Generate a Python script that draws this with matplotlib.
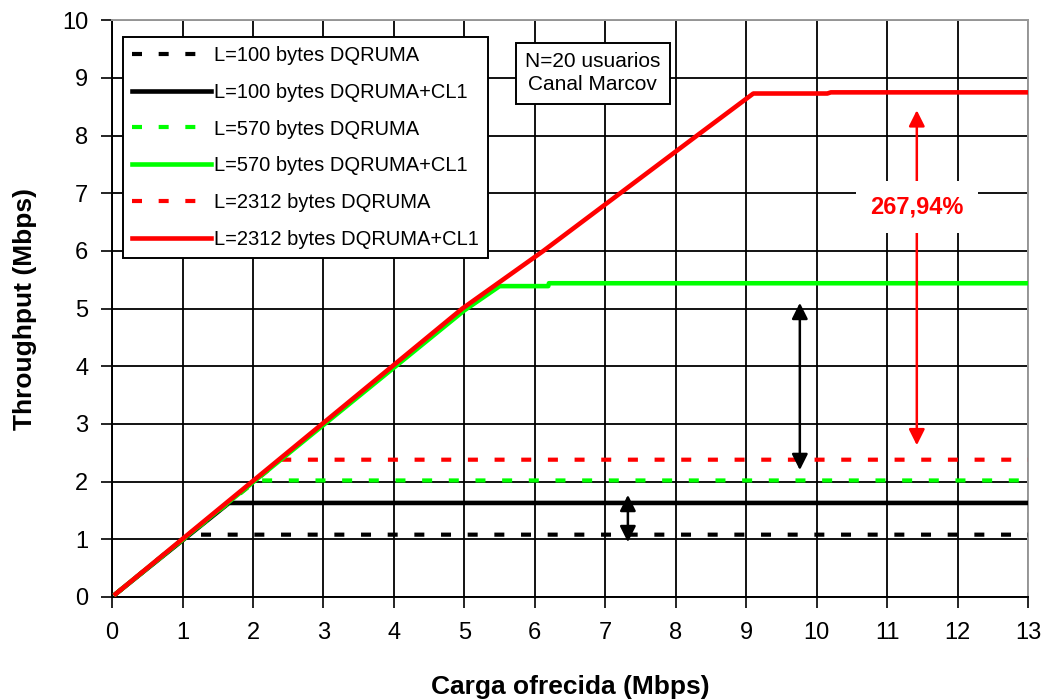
import matplotlib
matplotlib.use('Agg')
import matplotlib.pyplot as plt

plt.rcParams['font.family'] = ['Liberation Sans', 'DejaVu Sans']

# offered load (Mbps) / throughput (Mbps) for each curve
x_100 = [0.05, 1.08, 13]
y_100 = [0.05, 1.08, 1.08]
x_100_cl = [0.05, 1.66, 13]
y_100_cl = [0.05, 1.63, 1.63]
x_570 = [0.05, 2.05, 13]
y_570 = [0.05, 2.02, 2.02]
x_570_cl = [0.05, 5.0, 5.5, 6.19, 6.2, 13]
y_570_cl = [0.05, 4.97, 5.39, 5.39, 5.44, 5.44]
x_2312 = [0.05, 2.4, 13]
y_2312 = [0.05, 2.38, 2.38]
x_2312_cl = [0.05, 4.97, 6.12, 7.21, 8.3, 9.1, 10.15, 10.2, 13]
y_2312_cl = [0.05, 5.0, 6.0, 7.0, 8.0, 8.73, 8.73, 8.75, 8.75]

labels = ['L=100 bytes DQRUMA', 'L=100 bytes DQRUMA+CL1',
          'L=570 bytes DQRUMA', 'L=570 bytes DQRUMA+CL1',
          'L=2312 bytes DQRUMA', 'L=2312 bytes DQRUMA+CL1']

green = '#00ff00'
red = '#ff0000'

fig = plt.figure(figsize=(10.47, 6.99), dpi=100)
ax = fig.add_axes([0.107, 0.146, 0.875, 0.825])

dash = (0, (2.4, 4.0))
ax.plot(x_100, y_100, color='black', lw=3, ls=dash, label=labels[0], zorder=3)
ax.plot(x_100_cl, y_100_cl, color='black', lw=3.3, label=labels[1], zorder=3)
ax.plot(x_570, y_570, color=green, lw=3, ls=dash, label=labels[2], zorder=3)
ax.plot(x_570_cl, y_570_cl, color=green, lw=3.3, label=labels[3], zorder=4)
ax.plot(x_2312, y_2312, color=red, lw=3, ls=dash, label=labels[4], zorder=3)
ax.plot(x_2312_cl, y_2312_cl, color=red, lw=3.3, label=labels[5], zorder=5)

ax.set_xlim(0, 13)
ax.set_ylim(0, 10)
ax.set_xticks(range(0, 14))
ax.set_yticks(range(0, 11))
ax.grid(True, color='black', lw=1.3)
ax.set_axisbelow(True)
ax.tick_params(labelsize=17, length=8, width=1.2)
ax.tick_params(axis='x', pad=10)
ax.tick_params(axis='y', pad=9)
for s in ax.spines.values():
    s.set_linewidth(1.4)
ax.spines['right'].set_color('#999999')
ax.spines['top'].set_color('#999999')

ax.set_xlabel('Carga ofrecida (Mbps)', fontsize=19, fontweight='bold', labelpad=22)
ax.set_ylabel('Throughput (Mbps)', fontsize=19, fontweight='bold', labelpad=18)

leg = ax.legend(loc='upper left', bbox_to_anchor=(0.012, 0.971), fontsize=14.5,
                frameon=True, fancybox=False, edgecolor='black', framealpha=1,
                handlelength=3.9, handletextpad=0.15, labelspacing=0.88,
                borderpad=0.45, borderaxespad=0)
leg.get_frame().set_linewidth(1.4)

ax.text(6.82, 9.08, 'N=20 usuarios\nCanal Marcov', ha='center', va='center',
        fontsize=15, linespacing=1.25,
        bbox=dict(boxstyle='square,pad=0.45', fc='white', ec='black', lw=1.4))

arrow = dict(arrowstyle='<|-|>', color='black', lw=1.8, mutation_scale=24,
             shrinkA=0, shrinkB=0)
ax.annotate('', xy=(9.76, 5.1), xytext=(9.76, 2.2), arrowprops=arrow, zorder=6)
ax.annotate('', xy=(7.32, 1.77), xytext=(7.32, 0.95), arrowprops=arrow, zorder=6)
red_arrow = dict(arrow, color=red)
ax.annotate('', xy=(11.42, 8.44), xytext=(11.42, 2.63), arrowprops=red_arrow, zorder=6)
ax.text(11.42, 6.76, '267,94%', ha='center', va='center', color=red,
        fontsize=17, fontweight='bold', zorder=7,
        bbox=dict(boxstyle='square,pad=0.6', fc='white', ec='none'))

fig.savefig('out.png', dpi=100)
